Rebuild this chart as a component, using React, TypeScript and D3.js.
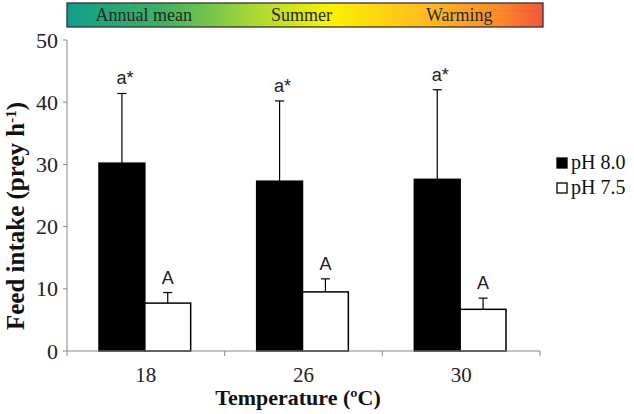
import React from "react";
import * as d3 from "d3";

const categories = ["18", "26", "30"];
const seriesNames = ["pH 8.0", "pH 7.5"];
const meansPH80 = [30.2, 27.3, 27.6];
const errorsPH80 = [11.2, 12.9, 14.4];
const meansPH75 = [7.7, 9.5, 6.7];
const errorsPH75 = [1.7, 2.1, 1.8];
const labelsPH80 = ["a*", "a*", "a*"];
const labelsPH75 = ["A", "A", "A"];
const yTicks = [0, 10, 20, 30, 40, 50];
const bandLabels = ["Annual mean", "Summer", "Warming"];

const W = 634;
const H = 414;

export default function App() {
  const left = 67, right = 540, top = 40, bottom = 351;
  const x0 = d3.scaleBand<string>().domain(categories).range([left, right]).padding(0);
  const x1 = d3.scaleBand<string>().domain(seriesNames).range([32, x0.bandwidth() - 34]).padding(0);
  const y = d3.scaleLinear().domain([0, 50]).range([bottom, top]);

  const series = [
    { name: seriesNames[0], means: meansPH80, errs: errorsPH80, labels: labelsPH80, fill: "#000" },
    { name: seriesNames[1], means: meansPH75, errs: errorsPH75, labels: labelsPH75, fill: "#fff" },
  ];

  const serif = "'Liberation Serif', 'Times New Roman', serif";
  const sans = "'Liberation Sans', Arial, sans-serif";

  return (
    <svg width={W} height={H} style={{ position: "absolute", left: 0, top: 0, background: "#fff" }}>
      <defs>
        <linearGradient id="tempGrad" x1="0" x2="1" y1="0" y2="0">
          <stop offset="0" stopColor="#0f9e8c" />
          <stop offset="0.2" stopColor="#3fb062" />
          <stop offset="0.38" stopColor="#a2d638" />
          <stop offset="0.55" stopColor="#fbf200" />
          <stop offset="0.75" stopColor="#ffbc1e" />
          <stop offset="0.9" stopColor="#fd8c28" />
          <stop offset="1" stopColor="#f35638" />
        </linearGradient>
      </defs>
      {/* gradient band */}
      <rect x={67} y={3} width={476} height={24} fill="url(#tempGrad)" stroke="#333" strokeWidth={1.3} />
      {bandLabels.map((t, i) => (
        <text key={t} x={(x0(categories[i]) as number) + x0.bandwidth() / 2 - 2} y={21} textAnchor="middle"
          fontFamily={serif} fontSize={18} fill="#1f2a1f">{t}</text>
      ))}

      {/* bars */}
      {series.map((s) =>
        categories.map((c, i) => {
          const bx = (x0(c) as number) + (x1(s.name) as number);
          const bw = x1.bandwidth();
          const cx = bx + bw / 2;
          const yTop = y(s.means[i]);
          const yErr = y(s.means[i] + s.errs[i]);
          return (
            <g key={s.name + c}>
              <line x1={cx} x2={cx} y1={yTop} y2={yErr} stroke="#000" strokeWidth={1.2} />
              <line x1={cx - 4.5} x2={cx + 4.5} y1={yErr} y2={yErr} stroke="#000" strokeWidth={1.2} />
              <rect x={bx} y={yTop} width={bw} height={bottom - yTop} fill={s.fill} stroke="#000" strokeWidth={1.5} />
              <text x={cx + (s.fill === "#000" ? 3 : 0)} y={yErr - 9} textAnchor="middle" fontFamily={sans} fontSize={18} fill="#222">{s.labels[i]}</text>
            </g>
          );
        })
      )}

      {/* y axis */}
      <line x1={left} x2={left} y1={top} y2={bottom} stroke="#888" strokeWidth={1} />
      {yTicks.map((t) => (
        <g key={t}>
          <line x1={left - 4} x2={left} y1={y(t)} y2={y(t)} stroke="#888" />
          <text x={left - 9} y={y(t) + 7.5} textAnchor="end" fontFamily={serif} fontSize={22} fill="#222">{t}</text>
        </g>
      ))}
      {/* x axis */}
      <line x1={left} x2={right} y1={bottom} y2={bottom} stroke="#888" strokeWidth={1} />
      {[...categories.map((c) => x0(c) as number), right].map((v, i) => (
        <line key={i} x1={v} x2={v} y1={bottom} y2={bottom + 5} stroke="#888" />
      ))}
      {categories.map((c) => (
        <text key={c} x={(x0(c) as number) + x0.bandwidth() / 2} y={382} textAnchor="middle"
          fontFamily={serif} fontSize={21} fill="#222">{c}</text>
      ))}
      <text x={298} y={405} textAnchor="middle" fontFamily={serif} fontSize={22} fontWeight="bold" fill="#111">Temperature (ºC)</text>
      <text transform={`translate(24,216) rotate(-90)`} textAnchor="middle" fontFamily={serif} fontSize={25} fontWeight="bold" fill="#111">
        Feed intake (prey h<tspan dy={-8} fontSize={15}>-1</tspan><tspan dy={8}>)</tspan>
      </text>

      {/* legend */}
      {series.map((s, i) => (
        <g key={s.name}>
          <rect x={557} y={158 + i * 25} width={10} height={10} fill={s.fill} stroke="#000" strokeWidth={1.3} />
          <text x={571} y={169 + i * 25} fontFamily={serif} fontSize={20} fill="#111">{s.name}</text>
        </g>
      ))}
    </svg>
  );
}
